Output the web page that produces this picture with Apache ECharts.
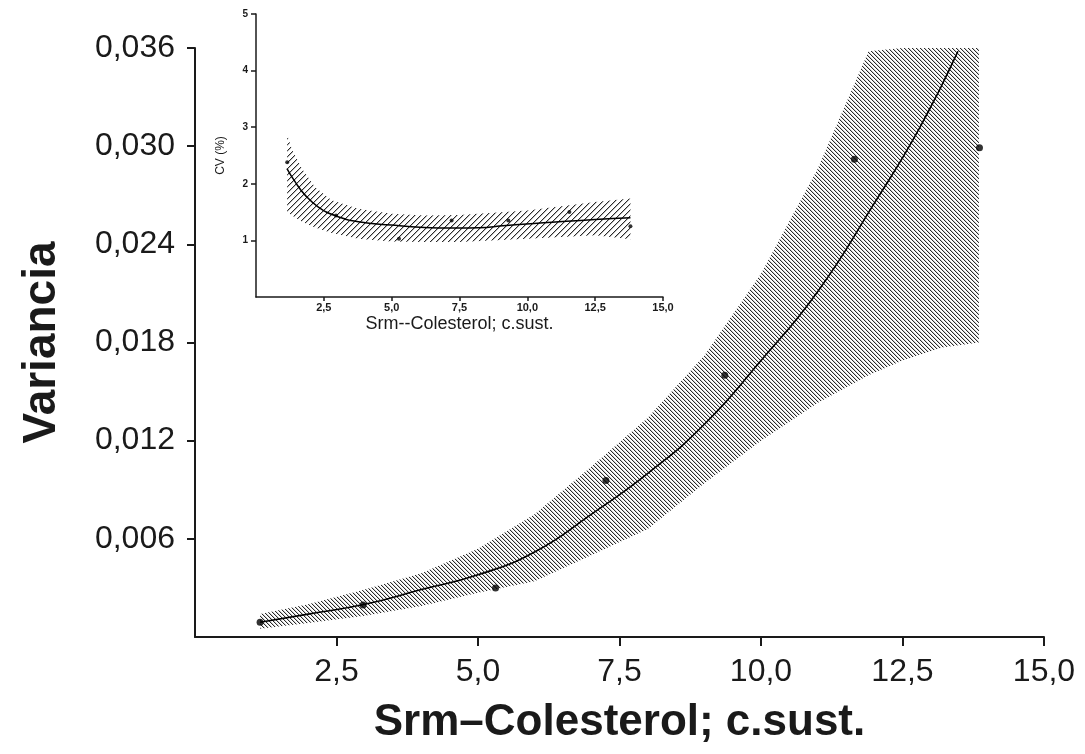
<!DOCTYPE html>
<html><head><meta charset="utf-8">
<script src="https://cdn.jsdelivr.net/npm/echarts@6/dist/echarts.min.js"></script>
<style>html,body{margin:0;padding:0;background:#fff}#c{width:1085px;height:754px}</style>
</head><body><div id="c"></div>
<script>
// ---------- main chart data ----------
const mainXTicks = [2.5, 5, 7.5, 10, 12.5, 15];
const mainYTicks = [0.006, 0.012, 0.018, 0.024, 0.030, 0.036];
const obsX   = [1.15, 2.97, 5.31, 7.26, 9.36, 11.65, 13.86];
const obsVar = [0.0009, 0.00195, 0.0030, 0.00957, 0.0160, 0.0292, 0.0299];
const fitX   = [1.15, 2, 3, 4, 5, 6, 7, 8, 9, 10, 11, 12, 12.8, 13.48];
const fitVar = [0.0009, 0.0014, 0.0020, 0.0029, 0.0038, 0.0052, 0.0075, 0.0100, 0.0130, 0.0169, 0.0211, 0.0265, 0.0311, 0.0358];
const bandX   = [1.15, 2, 3, 4, 5, 6, 7, 8, 9, 10, 11, 11.9, 12.5, 13.2, 13.85];
const bandUp  = [0.0014, 0.0020, 0.0029, 0.0039, 0.0054, 0.0075, 0.0104, 0.0134, 0.0172, 0.0222, 0.0286, 0.0358, 0.036, 0.036, 0.036];
const bandLow = [0.0005, 0.00085, 0.0013, 0.0019, 0.0027, 0.0034, 0.0050, 0.0066, 0.0094, 0.0120, 0.0143, 0.0160, 0.0169, 0.0177, 0.0180];

// ---------- inset data ----------
const insXTicks = [2.5, 5, 7.5, 10, 12.5, 15];
const insYTicks = [1, 2, 3, 4, 5];
const cvX  = [1.15, 2.95, 5.27, 7.21, 9.3, 11.55, 13.8];
const cvY  = [2.38, 1.44, 1.03, 1.35, 1.35, 1.5, 1.25];
const cvFitX = [1.14, 1.45, 1.81, 2.3, 2.91, 3.77, 4.99, 6.2, 7.25, 8.5, 9.1, 10.9, 12.5, 13.8];
const cvFitY = [2.27, 2.03, 1.80, 1.59, 1.44, 1.33, 1.27, 1.23, 1.22, 1.23, 1.26, 1.32, 1.37, 1.40];
const cvBandX   = [1.15, 1.33, 1.69, 2.18, 2.79, 3.77, 4.99, 6.2, 7.5, 10, 12.5, 13.8];
const cvBandUp  = [2.86, 2.6, 2.27, 1.94, 1.71, 1.56, 1.47, 1.44, 1.45, 1.53, 1.68, 1.74];
const cvBandLow = [1.5, 1.44, 1.33, 1.23, 1.13, 1.03, 0.98, 0.97, 0.97, 1.03, 1.09, 1.02];

function hatch(size, back, color, color2) {
  const c = document.createElement('canvas');
  c.width = c.height = size;
  const g = c.getContext('2d');
  for (let i = 0; i < size; i++) {
    const x = back ? i : size - 1 - i;
    g.fillStyle = color; g.fillRect(x, i, 1, 1);
    if (color2) { g.fillStyle = color2; g.fillRect((x + 1) % size, i, 1, 1); }
  }
  return c;
}
const mainHatch = hatch(4, true, '#2a2a2a', '#cfcfcf');
const insHatch = hatch(6, false, '#2a2a2a', '#bbbbbb');

const zip = (a, b) => a.map((v, i) => [v, b[i]]);
const comma = d => v => v.toFixed(d).replace('.', ',');

function bandSeries(xi, xs, up, lo, pat) {
  return {
    type: 'custom', xAxisIndex: xi, yAxisIndex: xi, silent: true, z: 1,
    data: [[xs[0], lo[0]]],
    renderItem: (params, api) => {
      const pts = [];
      for (let i = 0; i < xs.length; i++) pts.push(api.coord([xs[i], up[i]]));
      for (let i = xs.length - 1; i >= 0; i--) pts.push(api.coord([xs[i], lo[i]]));
      return { type: 'polygon', shape: { points: pts }, style: { fill: { image: pat, repeat: 'repeat' } } };
    }
  };
}

const AX = '#1a1a1a';
const FONT = '"Liberation Sans",Arial,sans-serif';
const chart = echarts.init(document.getElementById('c'));
chart.setOption({
  animation: false,
  backgroundColor: '#fff',
  grid: [
    { left: 195, right: 41, top: 48, bottom: 117 },
    { left: 256, right: 422, top: 14, bottom: 457 }
  ],
  xAxis: [
    {
      gridIndex: 0, type: 'value', min: 0, max: 15, interval: 2.5,
      axisLine: { lineStyle: { color: AX, width: 2 } },
      axisTick: { length: 9, customValues: mainXTicks, lineStyle: { color: AX, width: 2 } },
      splitLine: { show: false },
      axisLabel: { customValues: mainXTicks, formatter: comma(1), fontSize: 32, color: AX, margin: 19, fontFamily: FONT },
      name: 'Srm\u2013Colesterol; c.sust.', nameLocation: 'middle', nameGap: 64,
      nameTextStyle: { fontSize: 44, fontWeight: 'bold', color: AX, fontFamily: FONT }
    },
    {
      gridIndex: 1, type: 'value', min: 0, max: 15, interval: 2.5,
      axisLine: { lineStyle: { color: AX, width: 1.5 } },
      axisTick: { length: 4, customValues: insXTicks, lineStyle: { color: AX, width: 1.5 } },
      splitLine: { show: false },
      axisLabel: { customValues: insXTicks, formatter: comma(1), fontSize: 11, fontWeight: 'bold', color: AX, margin: 5, fontFamily: FONT },
      name: 'Srm--Colesterol; c.sust.', nameLocation: 'middle', nameGap: 18,
      nameTextStyle: { fontSize: 18, color: AX, fontFamily: FONT }
    }
  ],
  yAxis: [
    {
      gridIndex: 0, type: 'value', min: 0, max: 0.036, interval: 0.006,
      axisLine: { show: true, lineStyle: { color: AX, width: 2 } },
      axisTick: { show: true, length: 8, customValues: mainYTicks, lineStyle: { color: AX, width: 2 } },
      splitLine: { show: false },
      axisLabel: { customValues: mainYTicks, formatter: comma(3), fontSize: 32, color: AX, margin: 20, fontFamily: FONT },
      name: 'Variancia', nameLocation: 'middle', nameGap: 130,
      nameTextStyle: { fontSize: 46, fontWeight: 'bold', color: AX, fontFamily: FONT }
    },
    {
      gridIndex: 1, type: 'value', min: 0, max: 5, interval: 1,
      axisLine: { show: true, lineStyle: { color: AX, width: 1.5 } },
      axisTick: { show: true, length: 5, customValues: insYTicks, lineStyle: { color: AX, width: 1.5 } },
      splitLine: { show: false },
      axisLabel: { customValues: insYTicks, fontSize: 10, fontWeight: 'bold', color: AX, margin: 8, fontFamily: FONT },
      name: 'CV (%)', nameLocation: 'middle', nameGap: 29,
      nameTextStyle: { fontSize: 12, color: AX, fontFamily: FONT }
    }
  ],
  series: [
    bandSeries(0, bandX, bandUp, bandLow, mainHatch),
    { type: 'line', xAxisIndex: 0, yAxisIndex: 0, data: zip(fitX, fitVar), smooth: true, symbol: 'none',
      lineStyle: { color: '#000', width: 1.6 }, z: 3 },
    { type: 'scatter', xAxisIndex: 0, yAxisIndex: 0, data: zip(obsX, obsVar), symbol: 'circle', symbolSize: 7,
      itemStyle: { color: '#000' }, z: 4 },
    bandSeries(1, cvBandX, cvBandUp, cvBandLow, insHatch),
    { type: 'line', xAxisIndex: 1, yAxisIndex: 1, data: zip(cvFitX, cvFitY), smooth: true, symbol: 'none',
      lineStyle: { color: '#000', width: 1.5 }, z: 3 },
    { type: 'scatter', xAxisIndex: 1, yAxisIndex: 1, data: zip(cvX, cvY), symbol: 'circle', symbolSize: 4,
      itemStyle: { color: '#000' }, z: 4 }
  ]
});
</script>
</body></html>
